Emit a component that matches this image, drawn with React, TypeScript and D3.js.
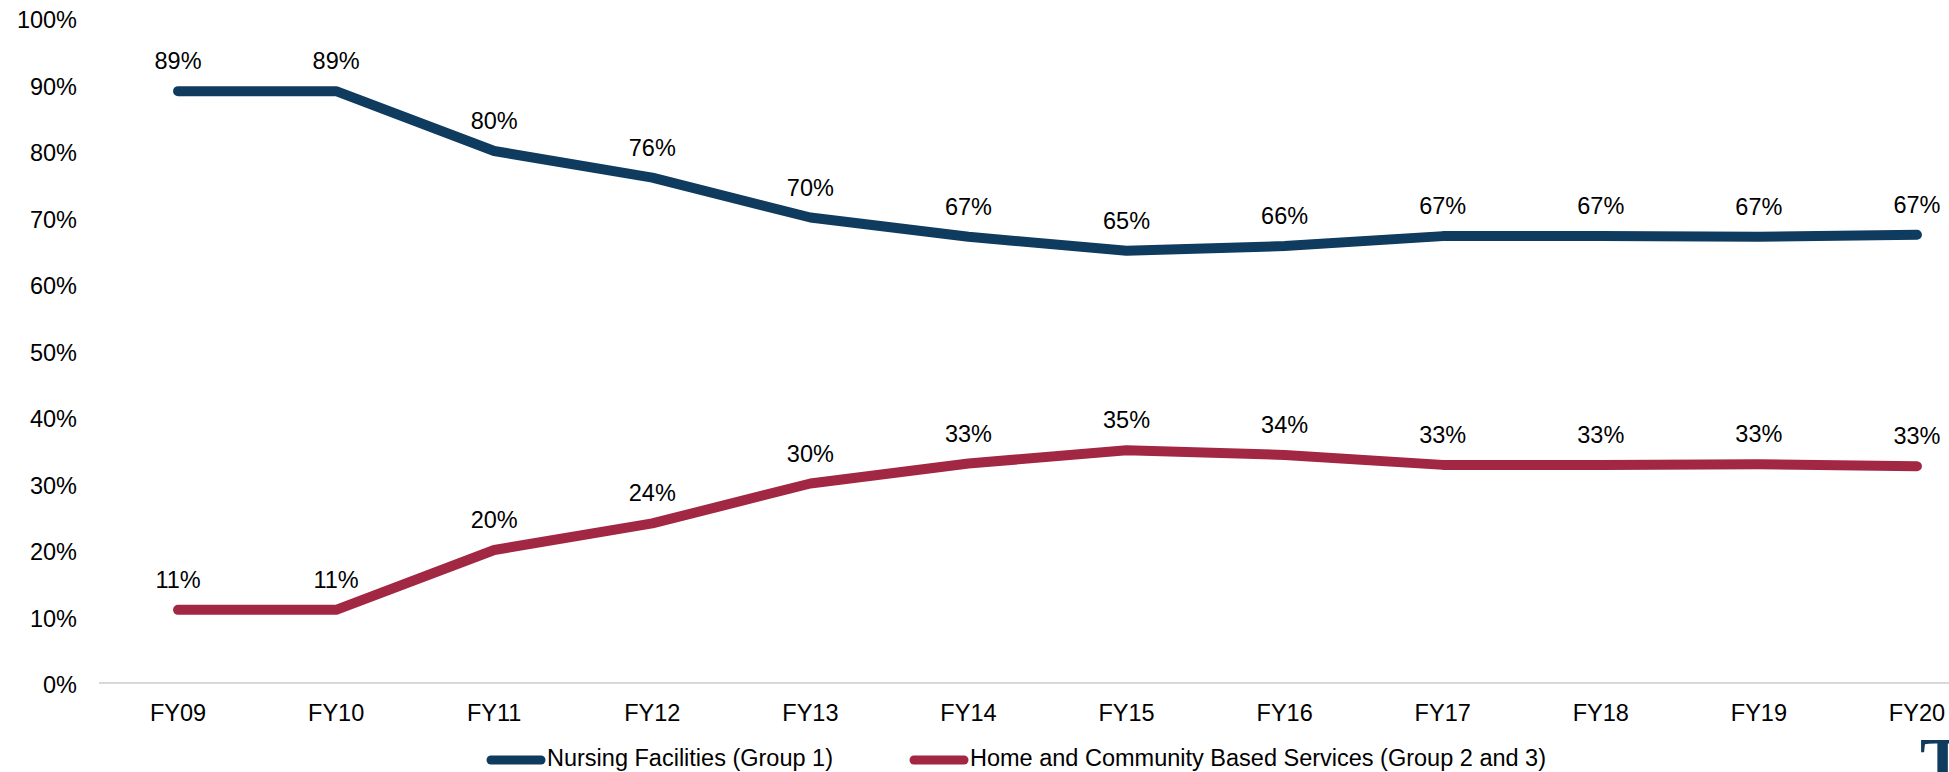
import { useRef, useEffect } from "react";
import * as d3 from "d3";

const years = ["FY09", "FY10", "FY11", "FY12", "FY13", "FY14", "FY15", "FY16", "FY17", "FY18", "FY19", "FY20"];
const nursing = [89, 89, 80, 76, 70, 67.1, 65, 65.7, 67.2, 67.2, 67.1, 67.4];
const hcbs = [11, 11, 20, 24, 30, 33, 35, 34.3, 32.8, 32.8, 32.9, 32.6];
const nursingLabels = ["89%", "89%", "80%", "76%", "70%", "67%", "65%", "66%", "67%", "67%", "67%", "67%"];
const hcbsLabels = ["11%", "11%", "20%", "24%", "30%", "33%", "35%", "34%", "33%", "33%", "33%", "33%"];
const yTicks = [0, 10, 20, 30, 40, 50, 60, 70, 80, 90, 100];

const series = [
  { name: "Nursing Facilities (Group 1)", values: nursing, labels: nursingLabels, color: "#0f3b5f" },
  { name: "Home and Community Based Services (Group 2 and 3)", values: hcbs, labels: hcbsLabels, color: "#a12743" },
];

export default function App() {
  const svgRef = useRef<SVGSVGElement>(null);

  useEffect(() => {
    if (!svgRef.current) return;
    const width = 1949;
    const height = 772;
    const font = "'Liberation Sans', Arial, sans-serif";
    const fontSize = 23.5;

    const svg = d3.select(svgRef.current);
    svg.selectAll("*").remove();
    svg.attr("width", width).attr("height", height);

    const x = d3.scalePoint<string>().domain(years).range([99, 1996]).padding(0.5);
    const y = d3.scaleLinear().domain([0, 100]).range([683, 18]);

    // baseline
    svg.append("line")
      .attr("x1", 99).attr("x2", width)
      .attr("y1", y(0)).attr("y2", y(0))
      .attr("stroke", "#d9d9d9").attr("stroke-width", 2);

    // y tick labels
    svg.append("g").selectAll("text")
      .data(yTicks)
      .enter()
      .append("text")
      .attr("x", 77)
      .attr("y", (d) => y(d) + 10)
      .attr("text-anchor", "end")
      .attr("font-family", font)
      .attr("font-size", fontSize)
      .attr("fill", "#000")
      .text((d) => `${d}%`);

    // x tick labels
    svg.append("g").selectAll("text")
      .data(years)
      .enter()
      .append("text")
      .attr("x", (d) => x(d)!)
      .attr("y", 721)
      .attr("text-anchor", "middle")
      .attr("font-family", font)
      .attr("font-size", fontSize)
      .attr("fill", "#000")
      .text((d) => d);

    const line = d3.line<number>()
      .x((_, i) => x(years[i])!)
      .y((d) => y(d));

    series.forEach((s) => {
      svg.append("path")
        .attr("d", line(s.values))
        .attr("fill", "none")
        .attr("stroke", s.color)
        .attr("stroke-width", 10)
        .attr("stroke-linecap", "round")
        .attr("stroke-linejoin", "round");

      svg.append("g").selectAll("text")
        .data(s.values)
        .enter()
        .append("text")
        .attr("x", (_, i) => x(years[i])!)
        .attr("y", (d) => y(d) - 22)
        .attr("text-anchor", "middle")
        .attr("font-family", font)
        .attr("font-size", fontSize)
        .attr("fill", "#000")
        .text((_, i) => s.labels[i]);
    });

    // legend
    const legendX = [486, 909];
    series.forEach((s, i) => {
      svg.append("line")
        .attr("x1", legendX[i] + 5).attr("x2", legendX[i] + 55)
        .attr("y1", 760).attr("y2", 760)
        .attr("stroke", s.color)
        .attr("stroke-width", 9)
        .attr("stroke-linecap", "round");
      svg.append("text")
        .attr("x", legendX[i] + 61)
        .attr("y", 766)
        .attr("font-family", font)
        .attr("font-size", fontSize)
        .attr("fill", "#000")
        .text(s.name);
    });

    // cropped logo fragment in the corner
    svg.append("text")
      .attr("x", 1920)
      .attr("y", 784)
      .attr("font-family", "'Liberation Serif', 'DejaVu Serif', serif")
      .attr("font-weight", "bold")
      .attr("font-size", 68)
      .attr("fill", "#0f3b5f")
      .text("T");
  }, []);

  return <svg ref={svgRef} style={{ display: "block", position: "absolute", left: 0, top: 0 }} />;
}
